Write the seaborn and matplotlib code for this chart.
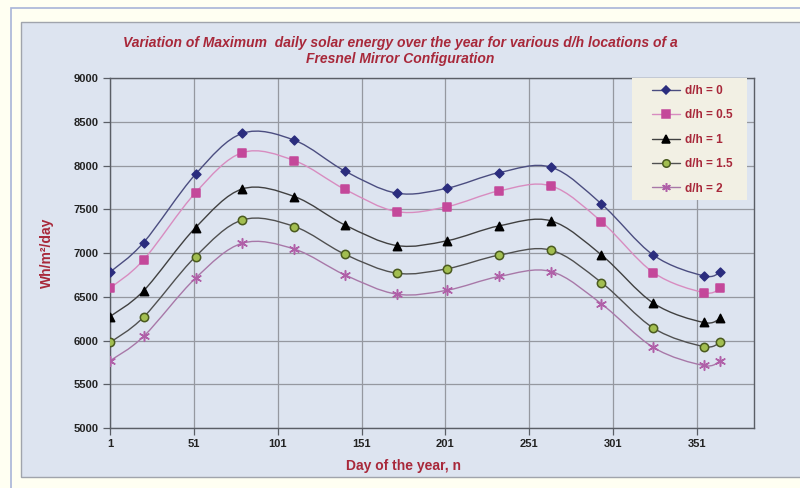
import numpy as np
import pandas as pd
import matplotlib
matplotlib.use("Agg")
import matplotlib.pyplot as plt
from matplotlib.path import Path
from matplotlib.patches import PathPatch, Rectangle
from matplotlib.lines import Line2D
import seaborn as sns

days = [1, 21, 52, 80, 111, 141, 172, 202, 233, 264, 294, 325, 355, 365]
dh_0 = [6783, 7121, 7903, 8371, 8291, 7940, 7686, 7743, 7921, 7983, 7563, 6977, 6740, 6783]
dh_05 = [6600, 6923, 7692, 8150, 8058, 7731, 7475, 7532, 7712, 7769, 7361, 6778, 6549, 6600]
dh_1 = [6275, 6569, 7292, 7735, 7647, 7323, 7087, 7142, 7312, 7369, 6980, 6428, 6207, 6257]
dh_15 = [5978, 6268, 6961, 7380, 7304, 6988, 6771, 6822, 6977, 7034, 6664, 6143, 5932, 5983]
dh_2 = [5769, 6047, 6714, 7114, 7046, 6752, 6531, 6576, 6733, 6790, 6420, 5921, 5715, 5769]
labels = ["d/h = 0", "d/h = 0.5", "d/h = 1", "d/h = 1.5", "d/h = 2"]
x_ticks = [1, 51, 101, 151, 201, 251, 301, 351]
y_ticks = [5000, 5500, 6000, 6500, 7000, 7500, 8000, 8500, 9000]

# marker, marker face, marker edge, line colour, marker size
asterisk = (6, 2, 0)
styles = [
    ("D", "#2B2D7E", "#2B2D7E", "#4B4D80", 4.5),
    ("s", "#C4489A", "#C4489A", "#D88CC0", 6),
    ("^", "#000000", "#000000", "#404040", 6),
    ("o", "#A2BE50", "#4A5A20", "#505050", 6),
    (asterisk, "#B060A8", "#B060A8", "#A878A8", 7),
]

sns.set_theme(style="white")
plt.rcParams["font.family"] = ["Liberation Sans", "DejaVu Sans"]
red = "#A8283A"
panel = "#DDE4F0"

fig = plt.figure(figsize=(8, 4.88), dpi=100, facecolor="#FFFFF2")
# outer frame and chart panel, kept behind the axes
fig.add_artist(Rectangle((11 / 800, -0.01), 1.0, 1 - 8 / 488 + 0.01, transform=fig.transFigure,
                         facecolor="none", edgecolor="#A8B4D8", lw=1.2, zorder=-2))
fig.add_artist(Rectangle((21 / 800, 1 - 477 / 488), 1.0, (477 - 22) / 488, transform=fig.transFigure,
                         facecolor=panel, edgecolor="#A0A4AC", lw=1.0, zorder=-1))

ax = fig.add_axes([110 / 800, 1 - 428 / 488, (754 - 110) / 800, (428 - 78.3) / 488])
ax.set_facecolor(panel)


def smooth_path(xs, ys):
    # Excel style smoothed line: cubic bezier segments through every point
    pts = np.column_stack([xs, ys]).astype(float)
    verts = [pts[0]]
    codes = [Path.MOVETO]
    n = len(pts)
    for i in range(n - 1):
        p0 = pts[i - 1] if i > 0 else pts[i]
        p1 = pts[i]
        p2 = pts[i + 1]
        p3 = pts[i + 2] if i + 2 < n else pts[i + 1]
        verts += [p1 + (p2 - p0) / 6, p2 - (p3 - p1) / 6, p2]
        codes += [Path.CURVE4] * 3
    return Path(verts, codes)


series = [dh_0, dh_05, dh_1, dh_15, dh_2]
handles = []
for vals, lab, (mk, fc, ec, lc, ms) in zip(series, labels, styles):
    ax.add_patch(PathPatch(smooth_path(days, vals), facecolor="none", edgecolor=lc, lw=1.0, zorder=3))
    df = pd.DataFrame({"day": days, "val": vals})
    sns.scatterplot(data=df, x="day", y="val", ax=ax, marker=mk, color=fc, edgecolor=ec,
                    linewidth=1.1, s=ms ** 2, zorder=4, legend=False)
    handles.append(Line2D([0], [0], color=lc, lw=1.0, marker=mk, markerfacecolor=fc,
                          markeredgecolor=ec, markersize=ms * 0.9, markeredgewidth=1.1))

ax.set_xlim(1, 385)
ax.set_ylim(5000, 9000)
ax.set_xticks(x_ticks)
ax.set_yticks(y_ticks)
ax.grid(True, color="#9598A0", lw=0.9)
ax.set_axisbelow(True)
for s in ax.spines.values():
    s.set_color("#5A5E66")
    s.set_linewidth(1.0)
ax.tick_params(axis="both", direction="out", length=5, width=0.9, color="#5A5E66",
               labelsize=8, pad=3, left=True, bottom=True)
for t in ax.get_xticklabels() + ax.get_yticklabels():
    t.set_fontweight("bold")
    t.set_color("#222222")
ax.set_xlabel("")
ax.set_ylabel("")

fig.text(0.5, 1 - 43 / 488, "Variation of Maximum  daily solar energy over the year for various d/h locations of a",
         ha="center", va="center", color=red, fontsize=10, fontweight="bold", fontstyle="italic")
fig.text(0.5, 1 - 59 / 488, "Fresnel Mirror Configuration",
         ha="center", va="center", color=red, fontsize=10, fontweight="bold", fontstyle="italic")
fig.text(403 / 800, 1 - 466 / 488, "Day of the year, n", ha="center", va="center",
         color=red, fontsize=10, fontweight="bold")
fig.text(47 / 800, 1 - 253 / 488, "Wh/m²/day", ha="center", va="center", rotation=90,
         color=red, fontsize=10, fontweight="bold")

# legend box drawn as its own patch, legend itself without frame
ax_h = 428 - 78.3
ax.add_patch(Rectangle(((632 - 110) / 644, (428 - 200) / ax_h), (747 - 632) / 644, (200 - 78.3) / ax_h,
                       transform=ax.transAxes, facecolor="#F2F0E4", edgecolor="none", zorder=5))
leg = ax.legend(handles=handles, labels=labels, loc="upper left",
                bbox_to_anchor=((652 - 110) / 644, (428 - 85) / ax_h), frameon=False,
                fontsize=8.5, labelspacing=1.05, handlelength=2.4, handletextpad=0.4,
                borderpad=0, borderaxespad=0)
leg.set_zorder(6)
for t in leg.get_texts():
    t.set_color(red)
    t.set_fontweight("bold")

fig.savefig("out.png", dpi=100, facecolor=fig.get_facecolor())
